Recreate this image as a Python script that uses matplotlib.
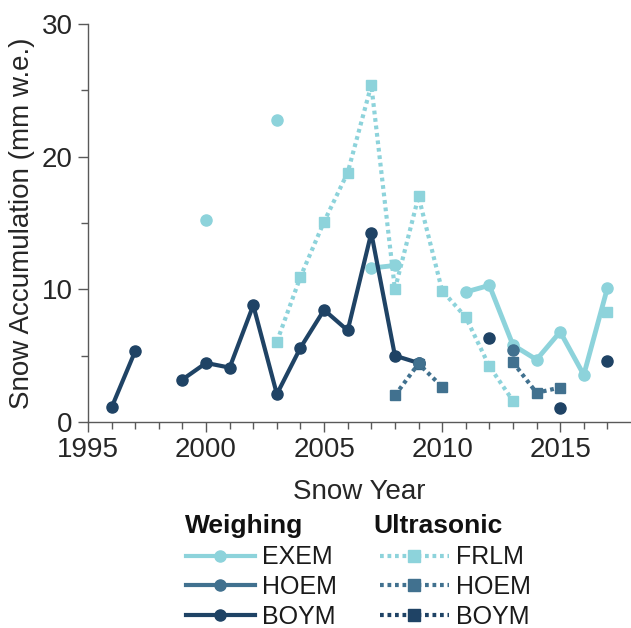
import numpy as np
import matplotlib
matplotlib.use("Agg")
import matplotlib.pyplot as plt
from matplotlib.lines import Line2D

plt.rcParams['font.family'] = ['Liberation Sans', 'DejaVu Sans']

nan = np.nan
years = list(range(1996, 2018))
# Weighing gauges
exem_w = [nan, nan, nan, nan, 15.25, nan, nan, 22.8, nan, nan, nan, 11.6, 11.8,
          nan, nan, 9.8, 10.3, 5.8, 4.7, 6.8, 3.55, 10.1]
hoem_w = [nan, nan, nan, nan, nan, nan, nan, nan, nan, nan, nan, nan, nan,
          4.45, nan, nan, nan, 5.4, nan, nan, nan, nan]
boym_w = [1.1, 5.35, nan, 3.2, 4.45, 4.1, 8.8, 2.1, 5.6, 8.45, 6.9, 14.25, 5.0,
          4.45, nan, nan, 6.3, nan, nan, 1.05, nan, 4.6]
# Ultrasonic sensors
frlm_u = [nan, nan, nan, nan, nan, nan, nan, 6.05, 10.95, 15.1, 18.8, 25.4, 10.0,
          17.0, 9.9, 7.9, 4.2, 1.6, nan, nan, nan, 8.3]
hoem_u = [nan, nan, nan, nan, nan, nan, nan, nan, nan, nan, nan, nan, 2.0,
          4.4, 2.65, nan, nan, 4.5, 2.2, 2.6, nan, nan]
boym_u = [nan] * 22

weighing_labels = ['EXEM', 'HOEM', 'BOYM']
ultrasonic_labels = ['FRLM', 'HOEM', 'BOYM']

c_light = '#8dd3db'
c_mid = '#41718f'
c_dark = '#1f4365'

fig = plt.figure(figsize=(6.31, 6.28), dpi=100)
ax = fig.add_axes([88/631, 1-422/628, 1-88/631, (422-24)/628])

lw = 3.0
dot = (0.9, 0.9)
ax.plot(years, frlm_u, color=c_light, lw=lw, dashes=dot, dash_capstyle='butt',
        marker='s', ms=7, zorder=2)
ax.plot(years, hoem_u, color=c_mid, lw=lw, dashes=dot, dash_capstyle='butt',
        marker='s', ms=7, zorder=2)
ax.plot(years, boym_u, color=c_dark, lw=lw, dashes=dot, dash_capstyle='butt',
        marker='s', ms=7, zorder=2)
ax.plot(years, exem_w, color=c_light, lw=lw+0.5, marker='o', ms=8, zorder=3)
ax.plot(years, boym_w, color=c_dark, lw=lw, marker='o', ms=8, zorder=3)
ax.plot(years, hoem_w, color=c_mid, lw=lw, marker='o', ms=8, zorder=4)

ax.set_xlim(1995, 2018)
ax.set_ylim(0, 30)
ax.set_xticks([1995, 2000, 2005, 2010, 2015])
ax.set_xticks(range(1995, 2018), minor=True)
ax.set_yticks([0, 10, 20, 30])
ax.set_yticks([5, 15, 25], minor=True)
for s in ['top', 'right']:
    ax.spines[s].set_visible(False)
for s in ['left', 'bottom']:
    ax.spines[s].set_color('#595959')
    ax.spines[s].set_linewidth(1.0)
ax.tick_params(which='both', color='#595959', width=1.0, labelsize=20,
               labelcolor='#262626', direction='out')
ax.tick_params(which='major', length=7, pad=4)
ax.tick_params(which='minor', length=5)
ax.set_xlabel('Snow Year', fontsize=20, color='#262626', labelpad=11)
ax.set_ylabel('Snow Accumulation (mm w.e.)', fontsize=20, color='#262626', labelpad=5)

def handle(color, dotted, marker):
    kw = dict(color=color, lw=lw, marker=marker, ms=8)
    if dotted:
        kw.update(dashes=dot, dash_capstyle='butt')
    return Line2D([0], [0], **kw)

leg_kw = dict(frameon=False, fontsize=18, handlelength=2.75, handletextpad=0.3,
              labelspacing=0.22, borderpad=0, borderaxespad=0,
              labelcolor='#1a1a1a', loc='center left')
fig.text(185/631, 1-533/628, 'Weighing', fontsize=19, fontweight='bold',
         color='#111111', va='baseline', ha='left')
fig.text(373/631, 1-533/628, 'Ultrasonic', fontsize=19, fontweight='bold',
         color='#111111', va='baseline', ha='left')
l1 = fig.legend([handle(c_light, False, 'o'), handle(c_mid, False, 'o'),
                 handle(c_dark, False, 'o')], weighing_labels,
                bbox_to_anchor=(186/631, 1-587/628), **leg_kw)
l2 = fig.legend([handle(c_light, True, 's'), handle(c_mid, True, 's'),
                 handle(c_dark, True, 's')], ultrasonic_labels,
                bbox_to_anchor=(380/631, 1-587/628), **leg_kw)

fig.savefig('out.png', dpi=100)
